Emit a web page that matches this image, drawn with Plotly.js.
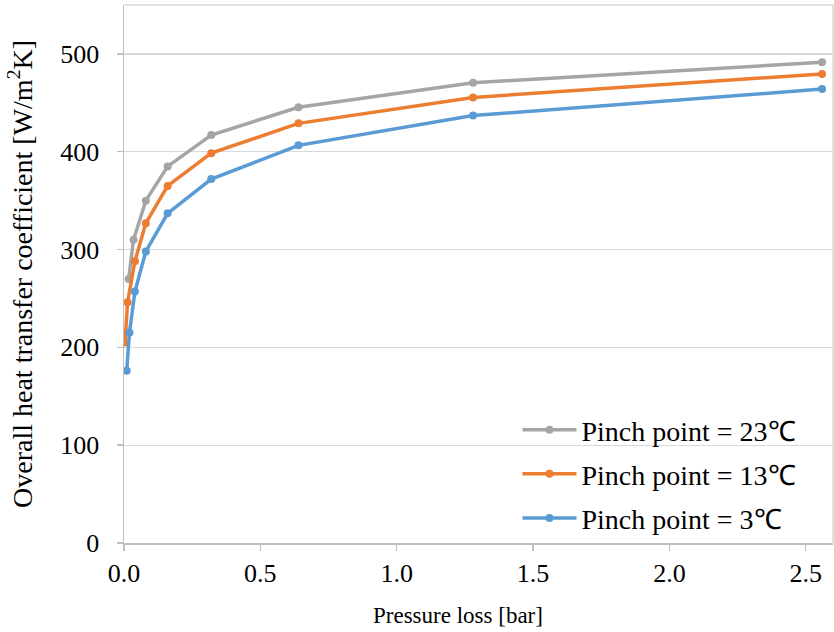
<!DOCTYPE html>
<html>
<head>
<meta charset="utf-8">
<script src="https://cdn.plot.ly/plotly-3.0.1.min.js"></script>
<style>html,body{margin:0;padding:0;background:#fff;}#chart{width:834px;height:632px;}</style>
</head>
<body>
<div id="chart"></div>
<script>
// Data
const seriesNames = ["Pinch point = 23℃", "Pinch point = 13℃", "Pinch point = 3℃"];
const pressureGray = [0.017, 0.035, 0.08, 0.16, 0.32, 0.64, 1.28, 2.56];
const uGray = [270, 310, 350, 385, 417, 445.5, 470.5, 491.5];
const pressureOrange = [0.004, 0.013, 0.04, 0.08, 0.16, 0.32, 0.64, 1.28, 2.56];
const uOrange = [205, 246, 288, 327, 365, 398.5, 429, 455.5, 479.5];
const pressureBlue = [0.01, 0.02, 0.04, 0.08, 0.16, 0.32, 0.64, 1.28, 2.56];
const uBlue = [176, 215, 257, 298, 337, 372, 406.5, 437, 464];
const xTicks = [0, 0.5, 1.0, 1.5, 2.0, 2.5];
const yTicks = [0, 100, 200, 300, 400, 500];
const xTitle = "Pressure loss [bar]";
const yTitle = "Overall heat transfer coefficient [W/m<sup>2</sup>K]";

const colors = ["#A5A5A5", "#ED7D31", "#5B9BD5"];
const FONT = "Times New Roman";

function mk(x, y, name, color, legendId) {
  return {
    type: "scatter", mode: "lines+markers", x: x, y: y, name: name,
    line: {color: color, width: 3.5},
    marker: {color: color, size: 8},
    legend: legendId, showlegend: true
  };
}

const data = [
  mk(pressureGray, uGray, seriesNames[0], colors[0], "legend"),
  mk(pressureOrange, uOrange, seriesNames[1], colors[1], "legend2"),
  mk(pressureBlue, uBlue, seriesNames[2], colors[2], "legend3")
];

function leg(y) {
  return {x: 0.555, xanchor: "left", y: y, yanchor: "middle",
    bgcolor: "rgba(0,0,0,0)", borderwidth: 0, itemwidth: 54,
    font: {family: FONT, size: 28, color: "#000"}};
}

const layout = {
  width: 834, height: 632,
  margin: {l: 124, r: 1, t: 5, b: 89},
  paper_bgcolor: "#fff", plot_bgcolor: "#fff",
  font: {family: FONT, color: "#000"},
  xaxis: {
    range: [0, 2.6], tickvals: xTicks, ticktext: xTicks.map(v => v.toFixed(1)),
    showgrid: false, zeroline: false,
    showline: true, linecolor: "#bfbfbf", linewidth: 1.5,
    ticks: "outside", ticklen: 6, tickcolor: "#bfbfbf", tickwidth: 1.5,
    tickfont: {family: FONT, size: 26, color: "#000"}
  },
  yaxis: {
    range: [0, 550], tickvals: yTicks, ticktext: yTicks.map(String),
    showgrid: true, gridcolor: "#d9d9d9", gridwidth: 1.3, zeroline: false,
    showline: true, linecolor: "#bfbfbf", linewidth: 1.5,
    ticks: "outside", ticklen: 6, tickcolor: "#bfbfbf", tickwidth: 1.5,
    ticklabelstandoff: 12,
    tickfont: {family: FONT, size: 26, color: "#000"},
    title: {text: yTitle, font: {family: FONT, size: 28, color: "#000"}, standoff: 19}
  },
  annotations: [
    {text: xTitle, xref: "paper", yref: "paper", x: 0.471, y: -0.134,
     xanchor: "center", yanchor: "middle", showarrow: false,
     font: {family: FONT, size: 23, color: "#000"}}
  ],
  legend: leg(0.21), legend2: leg(0.128), legend3: leg(0.046),
  shapes: [
    {type: "line", xref: "paper", yref: "paper", x0: 0, x1: 1, y0: 1, y1: 1, line: {color: "#d9d9d9", width: 1.5}},
    {type: "line", xref: "paper", yref: "paper", x0: 1, x1: 1, y0: 0, y1: 1, line: {color: "#d9d9d9", width: 1.5}}
  ]
};

Plotly.newPlot("chart", data, layout, {displayModeBar: false, staticPlot: true});
</script>
</body>
</html>
